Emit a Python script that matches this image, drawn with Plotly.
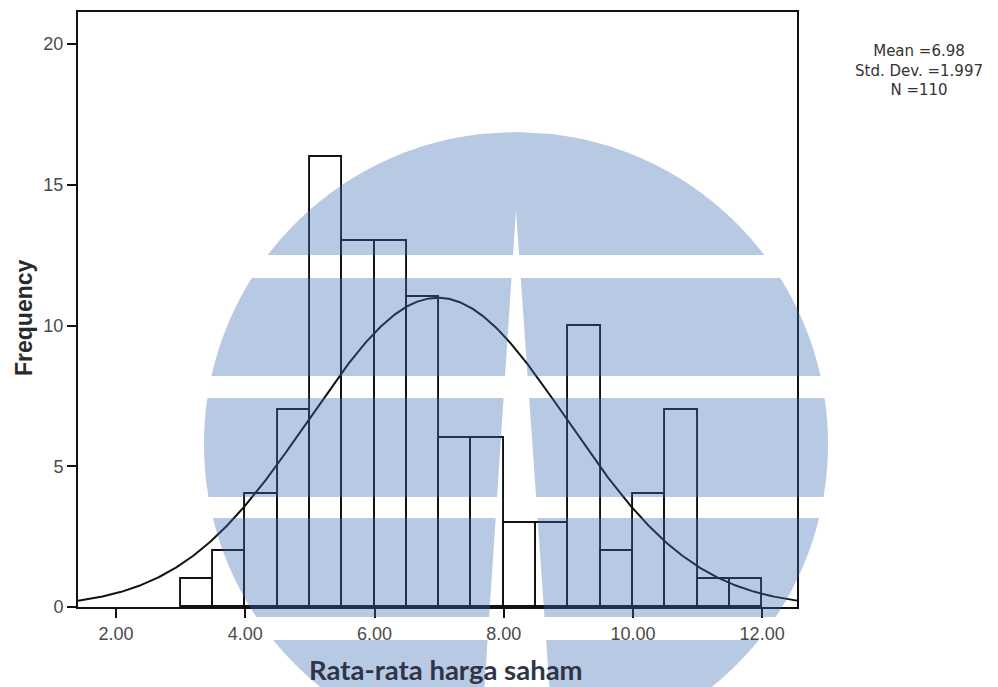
import numpy as np
import plotly.graph_objects as go

# Histogram data: lower edge of each 0.5-wide bin and its frequency
bin_start = [3.0, 3.5, 4.0, 4.5, 5.0, 5.5, 6.0, 6.5, 7.0, 7.5,
             8.0, 8.5, 9.0, 9.5, 10.0, 10.5, 11.0, 11.5]
frequency = [1, 2, 4, 7, 16, 13, 13, 11, 6, 6,
             3, 3, 10, 2, 4, 7, 1, 1]
bin_width = 0.5

# Summary statistics shown beside the plot (and used for the normal curve)
mean_value = 6.98
std_dev = 1.997
n_obs = 110

x_ticks = [2, 4, 6, 8, 10, 12]
y_ticks = [0, 5, 10, 15, 20]
x_range = [1.41, 12.54]
y_range = [0, 21.14]

# Page geometry (pixels)
FIG_W, FIG_H = 998, 687
M_L, M_R, M_T, M_B = 78, 201, 12, 80
PLOT_W = FIG_W - M_L - M_R
PLOT_H = FIG_H - M_T - M_B
PLOT_BOTTOM = FIG_H - M_B

fig = go.Figure()

centers = [s + bin_width / 2 for s in bin_start]
fig.add_trace(go.Bar(
    x=centers, y=frequency, width=bin_width,
    marker=dict(color="rgba(0,0,0,0)", line=dict(color="#111111", width=1.9)),
    showlegend=False, hoverinfo="x+y",
))

# Normal density scaled to counts per bin
xs = np.linspace(x_range[0], x_range[1], 500)
ys = n_obs * bin_width * np.exp(-0.5 * ((xs - mean_value) / std_dev) ** 2) / (std_dev * np.sqrt(2 * np.pi))
fig.add_trace(go.Scatter(x=xs, y=ys, mode="lines",
                         line=dict(color="#111111", width=2), showlegend=False,
                         hoverinfo="skip"))


# ---- circular emblem in the background (pixel geometry -> paper coords) ----
def to_paper(px, py):
    return (px - M_L) / PLOT_W, (PLOT_BOTTOM - py) / PLOT_H


CX, CY, R = 516.0, 444.0, 312.0
APEX_Y = 210.0
SLOPE_L, SLOPE_R = 0.066, 0.070
bands = [(132, 255), (278, 376), (398, 497), (518, 617), (640, 687)]


def circ_left(y):
    return CX - np.sqrt(max(R * R - (y - CY) ** 2, 0.0))


def circ_right(y):
    return CX + np.sqrt(max(R * R - (y - CY) ** 2, 0.0))


def beam_left(y):
    return CX - SLOPE_L * max(0.0, y - APEX_Y)


def beam_right(y):
    return CX + SLOPE_R * max(0.0, y - APEX_Y)


def path_from(points):
    pts = [to_paper(px, py) for px, py in points]
    return "M " + " L ".join(f"{a:.5f},{b:.5f}" for a, b in pts) + " Z"


shapes = []
style = dict(type="path", xref="paper", yref="paper", layer="above",
             fillcolor="rgb(62,108,182)", opacity=0.37, line=dict(width=0))
for ya, yb in bands:
    ys_arc = np.linspace(ya, yb, 60)
    left_arc = [(circ_left(y), y) for y in ys_arc]
    right_arc = [(circ_right(y), y) for y in ys_arc[::-1]]
    if ya < APEX_Y < yb:
        pts = left_arc + [(beam_left(yb), yb), (CX, APEX_Y), (beam_right(yb), yb)] + right_arc
        shapes.append(dict(path=path_from(pts), **style))
    else:
        left_pts = left_arc + [(beam_left(yb), yb), (beam_left(ya), ya)]
        right_pts = [(beam_right(ya), ya), (beam_right(yb), yb)] + right_arc
        shapes.append(dict(path=path_from(left_pts), **style))
        shapes.append(dict(path=path_from(right_pts), **style))

tick_font = dict(family="Liberation Sans, Arial, sans-serif", size=18, color="#4a4a4a")
axis_common = dict(showgrid=False, zeroline=False, showline=True, linecolor="#111111",
                   linewidth=2, mirror=True, ticks="outside", ticklen=9,
                   tickcolor="#111111", tickwidth=1.6, tickfont=tick_font)

stat_text = f"Mean ={mean_value:.2f}<br>Std. Dev. ={std_dev:.3f}<br>N ={n_obs}"
stat_pos = to_paper(919, 71)

fig.update_layout(
    width=FIG_W, height=FIG_H,
    margin=dict(l=M_L, r=M_R, t=M_T, b=M_B, autoexpand=False),
    paper_bgcolor="white", plot_bgcolor="white",
    bargap=0,
    xaxis=dict(range=x_range, tickvals=x_ticks,
               ticktext=[f"{v:.2f}" for v in x_ticks], **axis_common),
    yaxis=dict(range=y_range, tickvals=y_ticks,
               ticktext=[str(v) for v in y_ticks], **axis_common),
    shapes=shapes,
    annotations=[
        dict(text="<b>Frequency</b>", textangle=-90, xref="paper", yref="paper",
             x=to_paper(24, 318)[0], y=to_paper(24, 318)[1], showarrow=False,
             xanchor="center", yanchor="middle",
             font=dict(family="Liberation Sans, Arial, sans-serif", size=23, color="#2a2a2a")),
        dict(text="<b>Rata-rata harga saham</b>", xref="paper", yref="paper",
             x=to_paper(446, 669)[0], y=to_paper(446, 669)[1], showarrow=False,
             xanchor="center", yanchor="middle",
             font=dict(family="Lato, sans-serif", size=27.5, color="#2e3548")),
        dict(text=stat_text, xref="paper", yref="paper", x=stat_pos[0], y=stat_pos[1],
             showarrow=False, xanchor="center", yanchor="middle", align="center",
             font=dict(family="DejaVu Sans, sans-serif", size=15, color="#333333")),
    ],
)

fig.write_html("out.html")
